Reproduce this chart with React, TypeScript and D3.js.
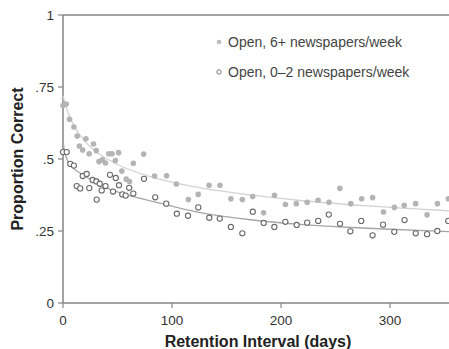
import React from 'react';
import * as d3 from 'd3';

// 6+ newspapers/week (filled dots)
const heavyDays = [0, 3, 6, 10, 13, 15, 18, 21, 24, 28, 30.5, 33, 36, 39, 42, 45, 48, 51, 54, 58, 61, 64.5, 74, 84, 95, 104, 115, 124, 134, 144, 154, 164.5, 174, 184, 194, 204, 214, 224, 234, 244, 254, 264, 274, 284, 294, 304, 313, 323.5, 334, 343.5, 353.5];
const heavyProp = [0.686, 0.691, 0.638, 0.611, 0.58, 0.545, 0.531, 0.57, 0.518, 0.552, 0.529, 0.491, 0.497, 0.486, 0.518, 0.518, 0.495, 0.522, 0.458, 0.43, 0.422, 0.485, 0.517, 0.441, 0.442, 0.413, 0.359, 0.377, 0.409, 0.409, 0.362, 0.359, 0.37, 0.313, 0.374, 0.342, 0.345, 0.35, 0.357, 0.35, 0.398, 0.345, 0.362, 0.366, 0.316, 0.332, 0.339, 0.345, 0.306, 0.345, 0.362];

// 0-2 newspapers/week (open dots)
const lightDays = [0, 3.4, 6.7, 10, 12.6, 15.8, 18.1, 21.7, 24.1, 27.2, 30.6, 30.9, 33.7, 35.5, 39, 43.1, 45.9, 48.4, 51.4, 54.4, 57.5, 60.7, 64.5, 74.3, 84.6, 94.7, 104.4, 114.7, 124.1, 134.2, 143.8, 154, 164.5, 174.1, 184.1, 193.9, 204, 214.4, 224, 234.1, 243.8, 254.1, 263.6, 273.6, 284, 293.6, 303.9, 313.3, 323.6, 334, 343.4, 353.4];
const lightProp = [0.524, 0.524, 0.483, 0.477, 0.406, 0.398, 0.441, 0.448, 0.399, 0.427, 0.422, 0.359, 0.414, 0.391, 0.406, 0.445, 0.387, 0.434, 0.409, 0.377, 0.373, 0.4, 0.38, 0.431, 0.367, 0.345, 0.31, 0.303, 0.332, 0.296, 0.293, 0.264, 0.242, 0.317, 0.278, 0.264, 0.282, 0.271, 0.279, 0.285, 0.307, 0.275, 0.249, 0.285, 0.235, 0.272, 0.247, 0.288, 0.242, 0.239, 0.25, 0.285];

// fitted curves
const heavyFitDays = [0, 2, 5, 10, 20, 35, 50, 80, 120, 170, 220, 280, 355];
const heavyFitProp = [0.72, 0.69, 0.657, 0.616, 0.562, 0.513, 0.481, 0.439, 0.404, 0.376, 0.355, 0.337, 0.32];
const lightFitDays = [0, 1, 3, 6, 10, 18, 37, 55, 80, 126, 172, 217, 260, 300, 355];
const lightFitProp = [0.57, 0.535, 0.505, 0.483, 0.466, 0.446, 0.404, 0.38, 0.355, 0.314, 0.289, 0.273, 0.263, 0.256, 0.248];

const xTicks = [0, 100, 200, 300];
const yTicks = [0, 0.25, 0.5, 0.75, 1];
const yTickLabels = ['0', '.25', '.5', '.75', '1'];
const legendLabels = ['Open, 6+ newspapers/week', 'Open, 0\u20132 newspapers/week'];

const W = 449;
const H = 349;
const font = '"Liberation Sans", Arial, Helvetica, sans-serif';
const axisColor = '#858585';

export default function App() {
  const x = d3.scaleLinear().domain([0, 354.1]).range([63, 449]);
  const y = d3.scaleLinear().domain([0, 1]).range([303, 15]);

  const line = d3.line<[number, number]>()
    .x(d => x(d[0]))
    .y(d => y(d[1]))
    .curve(d3.curveMonotoneX);

  const heavyFit = heavyFitDays.map((d, i) => [d, heavyFitProp[i]] as [number, number]);
  const lightFit = lightFitDays.map((d, i) => [d, lightFitProp[i]] as [number, number]);

  return (
    <svg width={W} height={H} style={{ position: 'absolute', left: 0, top: 0, background: '#fff' }} fontFamily={font}>
      {/* frame */}
      <line x1={x(0)} x2={W} y1={y(1)} y2={y(1)} stroke={axisColor} strokeWidth={1.5} />
      <line x1={x(0)} x2={W} y1={y(0)} y2={y(0)} stroke={axisColor} strokeWidth={1.5} />
      <line x1={x(0)} x2={x(0)} y1={y(1)} y2={y(0)} stroke={axisColor} strokeWidth={1.5} />

      {/* y ticks */}
      {yTicks.map((t, i) => (
        <g key={'y' + t}>
          <line x1={x(0) - 5} x2={x(0)} y1={y(t)} y2={y(t)} stroke={axisColor} strokeWidth={1.2} />
          <text x={x(0) - 9} y={y(t)} dy="0.36em" textAnchor="end" fontSize={13.5} fill="#333">{yTickLabels[i]}</text>
        </g>
      ))}

      {/* x ticks */}
      {xTicks.map(t => (
        <g key={'x' + t}>
          <line x1={x(t)} x2={x(t)} y1={y(0)} y2={y(0) + 5} stroke={axisColor} strokeWidth={1.2} />
          <text x={x(t)} y={y(0) + 22} textAnchor="middle" fontSize={13.5} fill="#333">{t}</text>
        </g>
      ))}

      {/* fit lines */}
      <path d={line(heavyFit) || ''} fill="none" stroke="#d2d2d2" strokeWidth={1.3} />
      <path d={line(lightFit) || ''} fill="none" stroke="#a6a6a6" strokeWidth={1.3} />

      {/* points */}
      {heavyDays.map((d, i) => (
        <circle key={'h' + i} cx={x(d)} cy={y(heavyProp[i])} r={2.8} fill="#b4b4b4" />
      ))}
      {lightDays.map((d, i) => (
        <circle key={'l' + i} cx={x(d)} cy={y(lightProp[i])} r={2.6} fill="#fff" stroke="#6a6a6a" strokeWidth={1.1} />
      ))}

      {/* legend */}
      <circle cx={219} cy={42} r={2.3} fill="#bcbcbc" />
      <text x={228} y={42} dy="0.36em" fontSize={14} fill="#444">{legendLabels[0]}</text>
      <circle cx={219} cy={72} r={2.2} fill="#fff" stroke="#777" strokeWidth={1} />
      <text x={228} y={72} dy="0.36em" fontSize={14} fill="#444">{legendLabels[1]}</text>

      {/* axis titles */}
      <text x={258} y={347} textAnchor="middle" fontSize={16} fontWeight="bold" fill="#222">Retention Interval (days)</text>
      <text transform={`translate(23,${(y(0) + y(1)) / 2}) rotate(-90)`} textAnchor="middle" fontSize={16} fontWeight="bold" fill="#222">Proportion Correct</text>
    </svg>
  );
}
